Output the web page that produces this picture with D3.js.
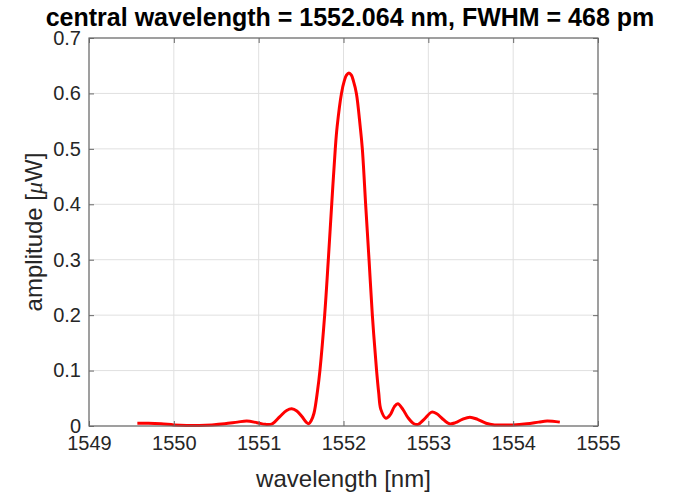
<!DOCTYPE html>
<html>
<head>
<meta charset="utf-8">
<script src="https://cdn.jsdelivr.net/npm/d3@7"></script>
<style>
  html, body { margin: 0; padding: 0; background: #ffffff; }
  svg { display: block; }
  text { font-family: "Liberation Sans", Arial, Helvetica, sans-serif; }
</style>
</head>
<body>
<div id="chart"></div>
<script>
// ---- data ----
const titleText = "central wavelength = 1552.064 nm, FWHM = 468 pm";
const xLabelText = "wavelength [nm]";
const xTicks = [1549, 1550, 1551, 1552, 1553, 1554, 1555];
const yTicks = [0, 0.1, 0.2, 0.3, 0.4, 0.5, 0.6, 0.7];
const yTickLabels = ["0", "0.1", "0.2", "0.3", "0.4", "0.5", "0.6", "0.7"];
const wavelength = [
  1549.57, 1549.70, 1549.85, 1550.00, 1550.15, 1550.30, 1550.45, 1550.60, 1550.75, 1550.86,
  1550.98, 1551.08, 1551.16, 1551.25, 1551.33, 1551.39, 1551.45, 1551.51, 1551.56, 1551.59,
  1551.62, 1551.652, 1551.695, 1551.722, 1551.778, 1551.821, 1551.861, 1551.903, 1551.925, 1551.976,
  1552.010, 1552.035, 1552.064, 1552.093, 1552.116, 1552.152, 1552.197, 1552.222, 1552.261, 1552.301,
  1552.340, 1552.390, 1552.415, 1552.44, 1552.50, 1552.55, 1552.60, 1552.64, 1552.70, 1552.76,
  1552.83, 1552.88, 1552.95, 1553.04, 1553.10, 1553.16, 1553.25, 1553.32, 1553.40, 1553.49,
  1553.58, 1553.68, 1553.78, 1553.90, 1554.00, 1554.16, 1554.30, 1554.40, 1554.55
];
const amplitude = [
  0.005, 0.005, 0.004, 0.002, 0.001, 0.001, 0.002, 0.004, 0.007, 0.009,
  0.006, 0.003, 0.004, 0.017, 0.028, 0.031, 0.027, 0.017, 0.007, 0.004,
  0.010, 0.023, 0.065, 0.100, 0.200, 0.300, 0.400, 0.500, 0.540, 0.600,
  0.623, 0.633, 0.637, 0.633, 0.623, 0.600, 0.540, 0.500, 0.400, 0.300,
  0.200, 0.100, 0.060, 0.030, 0.014, 0.020, 0.035, 0.040, 0.030, 0.015,
  0.004, 0.003, 0.012, 0.025, 0.022, 0.014, 0.004, 0.006, 0.012, 0.016,
  0.012, 0.005, 0.002, 0.002, 0.002, 0.004, 0.007, 0.009, 0.007
];

// ---- layout ----
const W = 674, H = 496;
const plot = { left: 89, right: 598, top: 38, bottom: 426 };
const textColor = "#262626";
const boxColor = "#6a6a6a";
const gridColor = "#e0e0e0";

const svg = d3.select("#chart").append("svg")
  .attr("width", W).attr("height", H);

const x = d3.scaleLinear().domain([1549, 1555]).range([plot.left, plot.right]);
const y = d3.scaleLinear().domain([0, 0.7]).range([plot.bottom, plot.top]);

// grid
const grid = svg.append("g");
grid.selectAll("line.gx").data(xTicks).join("line")
  .attr("x1", d => x(d)).attr("x2", d => x(d))
  .attr("y1", plot.top).attr("y2", plot.bottom)
  .attr("stroke", gridColor).attr("stroke-width", 1);
grid.selectAll("line.gy").data(yTicks).join("line")
  .attr("x1", plot.left).attr("x2", plot.right)
  .attr("y1", d => y(d)).attr("y2", d => y(d))
  .attr("stroke", gridColor).attr("stroke-width", 1);

// curve
const pts = wavelength.map((w, i) => [w, amplitude[i]]);
svg.append("path")
  .datum(pts)
  .attr("fill", "none")
  .attr("stroke", "#ff0000")
  .attr("stroke-width", 3)
  .attr("stroke-linejoin", "round")
  .attr("d", d3.line().x(d => x(d[0])).y(d => y(d[1])).curve(d3.curveCatmullRom.alpha(0.5)));

// axes
function styleAxis(g) {
  g.selectAll(".domain").remove();
  g.selectAll(".tick line").attr("stroke", boxColor).attr("stroke-width", 1);
  g.selectAll(".tick text").attr("fill", textColor)
    .style("font-family", '"Liberation Sans", Arial, Helvetica, sans-serif')
    .style("font-size", "20px");
}
svg.append("g").attr("transform", `translate(0,${plot.bottom})`)
  .call(d3.axisBottom(x).tickValues(xTicks).tickFormat(d3.format("d"))
    .tickSizeInner(-5).tickSizeOuter(0).tickPadding(10))
  .call(styleAxis);
svg.append("g").attr("transform", `translate(0,${plot.top})`)
  .call(d3.axisTop(x).tickValues(xTicks).tickFormat("")
    .tickSizeInner(-5).tickSizeOuter(0))
  .call(styleAxis);
svg.append("g").attr("transform", `translate(${plot.left},0)`)
  .call(d3.axisLeft(y).tickValues(yTicks).tickFormat((d, i) => yTickLabels[i])
    .tickSizeInner(-5).tickSizeOuter(0).tickPadding(8))
  .call(styleAxis);
svg.append("g").attr("transform", `translate(${plot.right},0)`)
  .call(d3.axisRight(y).tickValues(yTicks).tickFormat("")
    .tickSizeInner(-5).tickSizeOuter(0))
  .call(styleAxis);

// box
svg.append("rect")
  .attr("x", plot.left).attr("y", plot.top)
  .attr("width", plot.right - plot.left).attr("height", plot.bottom - plot.top)
  .attr("fill", "none").attr("stroke", boxColor).attr("stroke-width", 1.2);

// title
svg.append("text")
  .attr("x", 350).attr("y", 26)
  .attr("text-anchor", "middle")
  .attr("fill", "#000")
  .style("font-size", "25px").style("font-weight", "bold")
  .text(titleText);

// x label
svg.append("text")
  .attr("x", (plot.left + plot.right) / 2).attr("y", 487)
  .attr("text-anchor", "middle")
  .attr("fill", textColor)
  .style("font-size", "24px")
  .text(xLabelText);

// y label
const yl = svg.append("text")
  .attr("transform", `translate(42,${(plot.top + plot.bottom) / 2}) rotate(-90)`)
  .attr("text-anchor", "middle")
  .attr("fill", textColor)
  .style("font-size", "24px");
yl.append("tspan").text("amplitude [");
yl.append("tspan").style("font-style", "italic").style("font-family", '"Liberation Serif", serif').text("μ");
yl.append("tspan").text("W]");
</script>
</body>
</html>
